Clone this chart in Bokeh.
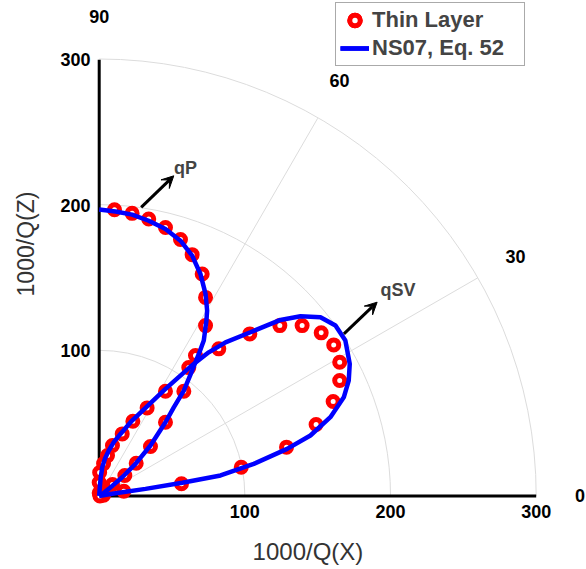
import math
from bokeh.plotting import figure
from bokeh.models import (Range1d, LabelSet, Label, ColumnDataSource, Arrow, VeeHead, Legend)
from bokeh.core.properties import value
from bokeh.embed import file_html
from bokeh.resources import INLINE

# ---------------- data (1000/Q(X), 1000/Q(Z)) ----------------
# Thin layer simulation points
thin_qp_x = [10.5, 22.6, 34.0, 45.5, 55.8, 63.8, 70.7, 73.0, 73.0, 66.1, 58.1, 45.5, 35.2, 25.4, 17.6, 9.1, 3.6, 0.9]
thin_qp_z = [196.9, 194.4, 190.5, 184.7, 176.4, 166.0, 152.7, 136.6, 117.2, 96.6, 72.0, 50.7, 34.0, 22.5, 14.1, 7.9, 3.8, 1.7]

thin_qsv_x = [0.0, 0.0, 0.3, 3.0, 5.7, 9.1, 15.8, 23.1, 32.9, 45.5, 61.5, 82.1, 103.4, 124.0, 139.3, 152.4,
              161.0, 165.1, 165.1, 160.6, 148.9, 128.6, 97.5, 56.5, 16.9, 3.0, 0.5]
thin_qsv_z = [2.0, 9.3, 16.2, 22.3, 27.8, 34.7, 42.7, 51.4, 60.6, 72.0, 88.3, 101.2, 111.5, 117.2, 117.2, 112.2,
              103.9, 92.0, 79.4, 65.0, 49.2, 33.6, 19.8, 8.4, 3.3, 0.5, 0.0]

# NS07, Eq. 52 curves
ns07_qp_x = [0.0, 11.2, 22.6, 34.0, 45.5, 55.8, 63.8, 69.5, 73.0, 74.1, 73.6, 71.8, 68.4, 63.8, 58.1, 51.2,
             45.5, 35.2, 24.9, 15.8, 6.6, 0.9, 0.0]
ns07_qp_z = [197.0, 195.7, 193.5, 189.3, 183.6, 175.6, 165.3, 152.7, 139.0, 127.5, 120.6, 106.9, 97.7, 86.3,
             72.5, 61.0, 50.7, 34.7, 22.1, 12.9, 4.9, 0.3, 0.0]

ns07_qsv_x = [0.0, 0.4, 1.0, 2.1, 4.0, 6.6, 10.0, 14.6, 22.6, 31.8, 45.5, 62.7, 75.2, 86.7, 103.8, 124.4,
              138.2, 151.9, 162.2, 169.0, 172.0, 171.3, 167.9, 158.7, 145.0, 129.0, 106.1, 83.3, 57.0, 31.8,
              8.9, 0.0]
ns07_qsv_z = [0.0, 6.0, 12.5, 19.8, 25.8, 31.3, 37.0, 42.7, 51.9, 60.6, 73.7, 89.0, 98.8, 105.7, 112.6, 121.1,
              123.6, 122.9, 117.2, 106.9, 90.9, 79.4, 67.9, 54.2, 41.6, 32.4, 22.1, 14.1, 9.1, 4.9,
              1.5, 0.0]

# polar grid / axes
grid_radii = [100, 200, 300]
grid_angles = [30, 60]
angle_labels = [0, 30, 60, 90]
axis_ticks = [100, 200, 300]
axis_max = 300

FONT = "Liberation Sans"

# frame covers the whole canvas; the data window is chosen so that the
# quarter-polar area sits where the reference draws it
p = figure(width=586, height=569, x_range=Range1d(-67.76, 334.53), y_range=Range1d(-50.55, 340.78),
           output_backend="svg", toolbar_location=None, x_axis_type=None, y_axis_type=None,
           min_border=0)
p.outline_line_color = None
p.grid.visible = False
p.background_fill_color = "white"
p.border_fill_color = "white"

# polar grid
n = len(grid_radii)
p.arc(x=[0] * n, y=[0] * n, radius=grid_radii, start_angle=0, end_angle=math.pi / 2,
      line_color="#dcdcdc", line_width=1)
p.segment(x0=[0] * len(grid_angles), y0=[0] * len(grid_angles),
          x1=[axis_max * math.cos(math.radians(a)) for a in grid_angles],
          y1=[axis_max * math.sin(math.radians(a)) for a in grid_angles],
          line_color="#dcdcdc", line_width=1)

# axis lines (x: 1000/Q(X), z: 1000/Q(Z))
p.segment(x0=[0, 0], y0=[0, 0], x1=[axis_max, 0], y1=[0, axis_max], line_color="black", line_width=3)

tick_font = dict(text_font=value(FONT), text_font_style="bold", text_font_size="18px", text_color="black")
xt_src = ColumnDataSource(dict(x=axis_ticks, y=[-10.7] * len(axis_ticks), t=[str(v) for v in axis_ticks]))
p.add_layout(LabelSet(x="x", y="y", text="t", source=xt_src, text_align="center",
                      text_baseline="middle", **tick_font))
yt_src = ColumnDataSource(dict(x=[-6.0] * len(axis_ticks), y=axis_ticks, t=[str(v) for v in axis_ticks]))
p.add_layout(LabelSet(x="x", y="y", text="t", source=yt_src, text_align="right",
                      text_baseline="middle", **tick_font))

# angle labels
lab_r = 1.1 * axis_max
ang_src = ColumnDataSource(dict(
    x=[lab_r * math.cos(math.radians(a)) for a in angle_labels],
    y=[lab_r * math.sin(math.radians(a)) for a in angle_labels],
    t=[str(a) for a in angle_labels]))
p.add_layout(LabelSet(x="x", y="y", text="t", source=ang_src, text_align="center",
                      text_baseline="middle", **tick_font))

# data
c1 = p.scatter(thin_qp_x, thin_qp_z, size=10, line_width=5, line_color="#ff0000", fill_color="white")
c2 = p.scatter(thin_qsv_x, thin_qsv_z, size=10, line_width=5, line_color="#ff0000", fill_color="white")
l1 = p.line(ns07_qp_x, ns07_qp_z, line_color="#0000ff", line_width=4.5)
l2 = p.line(ns07_qsv_x, ns07_qsv_z, line_color="#0000ff", line_width=4.5)

# arrows and wave labels
p.add_layout(Arrow(end=VeeHead(size=12, fill_color="black", line_color="black", line_width=1),
                   x_start=28.8, y_start=198.5, x_end=51.2, y_end=220.2,
                   line_color="black", line_width=3))
p.add_layout(Arrow(end=VeeHead(size=12, fill_color="black", line_color="black", line_width=1),
                   x_start=168.0, y_start=111.5, x_end=190.8, y_end=133.3,
                   line_color="black", line_width=3))
p.add_layout(Label(x=51.3, y=225.8, text="qP", text_align="left", text_baseline="middle",
                   text_font=FONT, text_font_style="bold", text_font_size="18px"))
p.add_layout(Label(x=193.1, y=141.9, text="qSV", text_align="left", text_baseline="middle",
                   text_font=FONT, text_font_style="bold", text_font_size="18px"))

# axis titles
p.add_layout(Label(x=143.3, y=-38.0, text="1000/Q(X)", text_align="center",
                   text_baseline="middle", text_font=FONT, text_font_size="24px",
                   text_color="#333333"))
p.add_layout(Label(x=-50.0, y=173.3, text="1000/Q(Z)", text_align="center",
                   text_baseline="middle", angle=math.pi / 2, text_font=FONT,
                   text_font_size="23px", text_color="#333333"))

legend = Legend(items=[("Thin Layer", [c1, c2]), ("NS07, Eq. 52", [l1, l2])],
                location=(335, 503), border_line_color="#555555", border_line_width=1,
                background_fill_color="white", background_fill_alpha=1.0,
                label_text_font=FONT, label_text_font_style="bold", label_text_font_size="22px",
                glyph_width=29, glyph_height=26, label_height=26, label_width=148,
                label_standoff=3, padding=4, spacing=2, margin=0)
p.add_layout(legend, "center")

open("out.html", "w").write(file_html(p, INLINE))
